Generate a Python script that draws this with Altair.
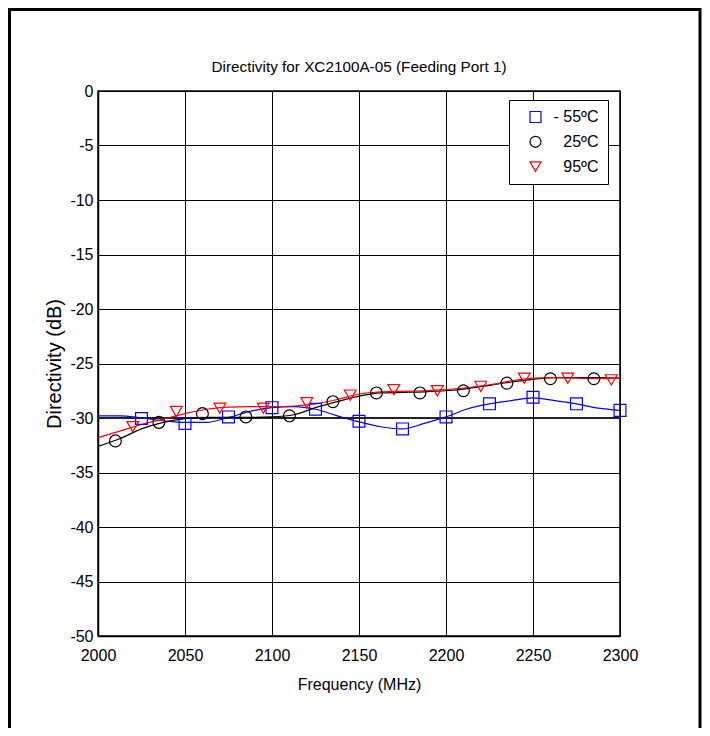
import altair as alt
import pandas as pd

# ---------------- data ----------------
series_names = ["- 55ºC", "25ºC", "95ºC"]
series_colors = ["#0000ff", "#000000", "#ff0000"]
series_shapes = ["square", "circle", "triangle-down"]

# smooth trace (read every 12.5 MHz)
line_freq = [2000, 2012.5, 2025, 2037.5, 2050, 2062.5, 2075, 2087.5, 2100, 2112.5,
             2125, 2137.5, 2150, 2162.5, 2175, 2187.5, 2200, 2212.5, 2225, 2237.5,
             2250, 2262.5, 2275, 2287.5, 2300]
line_m55 = [-29.8, -29.8, -30.0, -30.25, -30.4, -30.4, -29.95, -29.4, -29.05, -28.95,
            -29.2, -29.8, -30.35, -30.8, -31.0, -30.5, -29.9, -29.15, -28.7, -28.4,
            -28.15, -28.4, -28.7, -29.1, -29.3]
line_25 = [-32.6, -31.9, -31.0, -30.4, -30.05, -29.95, -29.95, -29.95, -29.9, -29.7,
           -29.05, -28.5, -28.0, -27.7, -27.65, -27.6, -27.5, -27.3, -27.0, -26.7,
           -26.45, -26.3, -26.3, -26.3, -26.35]
line_95 = [-31.8, -31.2, -30.6, -30.1, -29.6, -29.2, -29.0, -28.95, -28.95, -28.9,
           -28.7, -28.3, -27.8, -27.6, -27.55, -27.5, -27.4, -27.2, -26.95, -26.6,
           -26.35, -26.3, -26.35, -26.4, -26.35]

# markers
freq_m55 = [2025, 2050, 2075, 2100, 2125, 2150, 2175, 2200, 2225, 2250, 2275, 2300]
val_m55 = [-30.05, -30.5, -29.9, -29.05, -29.2, -30.3, -31.0, -29.9, -28.7, -28.1, -28.7, -29.3]
freq_25 = [2010, 2035, 2060, 2085, 2110, 2135, 2160, 2185, 2210, 2235, 2260, 2285]
val_25 = [-32.1, -30.4, -29.6, -29.9, -29.8, -28.5, -27.7, -27.7, -27.5, -26.8, -26.4, -26.4]
freq_95 = [2020, 2045, 2070, 2095, 2120, 2145, 2170, 2195, 2220, 2245, 2270, 2295]
val_95 = [-30.8, -29.4, -29.1, -29.1, -28.6, -27.9, -27.4, -27.5, -27.1, -26.35, -26.35, -26.5]

x_ticks = [2000, 2050, 2100, 2150, 2200, 2250, 2300]
y_ticks = [0, -5, -10, -15, -20, -25, -30, -35, -40, -45, -50]
spec_level = [-30]

title_text = "Directivity for XC2100A-05 (Feeding Port 1)"
x_title = "Frequency (MHz)"
y_title = "Directivity (dB)"

# ---------------- tables ----------------
line_values = [line_m55, line_25, line_95]
lines_df = pd.concat([
    pd.DataFrame({"freq": line_freq, "val": v, "series": n})
    for v, n in zip(line_values, series_names)
], ignore_index=True)
pts_df = pd.concat([
    pd.DataFrame({"freq": f, "val": v, "series": n})
    for f, v, n in zip([freq_m55, freq_25, freq_95], [val_m55, val_25, val_95], series_names)
], ignore_index=True)
spec_df = pd.DataFrame({"val": spec_level})

FONT = "Liberation Sans"
FS = 16

W, H = 522, 545

xscale = alt.Scale(domain=[2000, 2300], nice=False, zero=False)
yscale = alt.Scale(domain=[-50, 0], nice=False, zero=False)
xaxis = alt.Axis(values=x_ticks, title=x_title, labelExpr="toString(datum.value)",
                 labelPadding=11, titlePadding=13, labelFlush=False)
yaxis = alt.Axis(values=y_ticks, title=y_title, labelExpr="toString(datum.value)",
                 labelPadding=5, titlePadding=5, titleFontSize=20)

color_scale = alt.Scale(domain=series_names, range=series_colors)
shape_scale = alt.Scale(domain=series_names, range=series_shapes)

base_x = alt.X("freq:Q", scale=xscale, axis=xaxis)
base_y = alt.Y("val:Q", scale=yscale, axis=yaxis)

line_layers = [
    alt.Chart(lines_df).transform_filter(alt.datum.series == n)
    .mark_line(strokeWidth=1.2, interpolate="monotone", color=c)
    .encode(x=base_x, y=base_y)
    for n, c in zip(series_names, series_colors)
]

legend = alt.Legend(title=None, orient="none", legendX=411, legendY=9,
                    fillColor="white", strokeColor="black", padding=9,
                    labelAlign="right", labelOffset=55, symbolOffset=9.5,
                    rowPadding=8.8, labelFont=FONT, labelFontSize=FS, labelColor="black",
                    symbolStrokeWidth=1.2, symbolSize=120)

points = alt.Chart(pts_df).mark_point(filled=False, size=140, strokeWidth=1.2, opacity=1).encode(
    x=base_x, y=base_y,
    color=alt.Color("series:N", scale=color_scale, legend=legend, sort=series_names),
    shape=alt.Shape("series:N", scale=shape_scale, legend=legend, sort=series_names),
)

spec = alt.Chart(spec_df).mark_rule(color="#222222", strokeWidth=2.2).encode(
    y=alt.Y("val:Q", scale=yscale, axis=yaxis)
)

frame = alt.Chart(pd.DataFrame({"k": [0]})).mark_rect(
    fillOpacity=0, stroke="black", strokeWidth=3
).encode(
    x=alt.value(-88.5), x2=alt.value(602), y=alt.value(-81.5), y2=alt.value(800)
)

chart = alt.layer(spec, *line_layers, points, frame).properties(
    width=W, height=H,
    title=alt.TitleParams(title_text, font=FONT, fontSize=15.3, fontWeight="normal",
                          offset=-67, color="black", frame="group"),
    autosize=alt.AutoSizeParams(type="none"),
    padding={"left": 90, "top": 83, "right": 82, "bottom": 92},
).configure_view(
    stroke="black", strokeWidth=1.5
).configure_axis(
    grid=True, gridColor="black", gridOpacity=1, gridWidth=1,
    domainColor="black", domainWidth=1.5, ticks=False,
    labelFont=FONT, labelFontSize=FS, labelColor="black",
    titleFont=FONT, titleFontSize=FS, titleFontWeight="normal", titleColor="black",
)

chart.save("out.html", embed_options={"renderer": "svg", "actions": False})
